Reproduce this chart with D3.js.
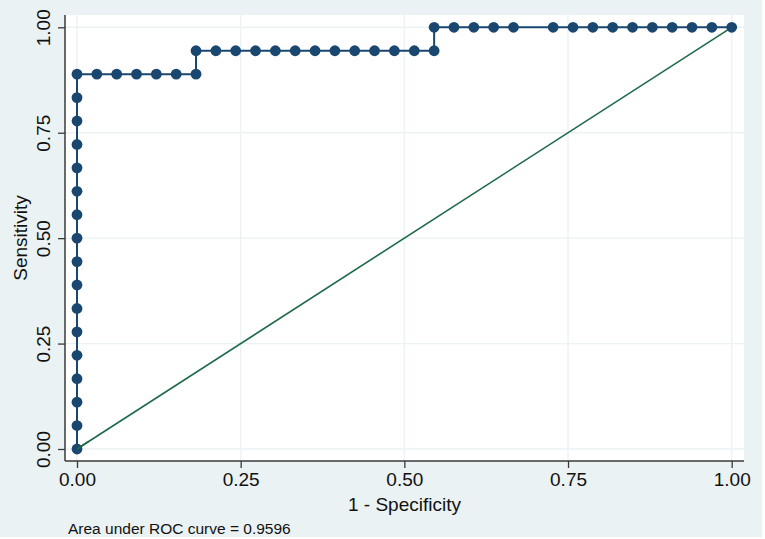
<!DOCTYPE html>
<html>
<head>
<meta charset="utf-8">
<script src="https://cdn.jsdelivr.net/npm/d3@7"></script>
<style>
  html, body { margin: 0; padding: 0; background: #fff; }
  svg { display: block; font-family: "Liberation Sans", Arial, sans-serif; }
</style>
</head>
<body>
<div id="chart"></div>
<script>
(function () {
  'use strict';

  // ROC points, ordered from (0,0) to (1,1)
  const fpr = [
    0, 0, 0, 0, 0, 0, 0, 0, 0, 0, 0, 0, 0, 0, 0, 0, 0,
    0.0303, 0.0606, 0.0909, 0.1212, 0.1515, 0.1818,
    0.1818, 0.2121, 0.2424, 0.2727, 0.3030, 0.3333, 0.3636, 0.3939, 0.4242, 0.4545, 0.4848, 0.5152, 0.5455,
    0.5455, 0.5758, 0.6061, 0.6364, 0.6667, 0.7273, 0.7576, 0.7879, 0.8182, 0.8485, 0.8788, 0.9091, 0.9394, 0.9697, 1
  ];
  const sens = [
    0, 0.0556, 0.1111, 0.1667, 0.2222, 0.2778, 0.3333, 0.3889, 0.4444, 0.5, 0.5556, 0.6111, 0.6667, 0.7222, 0.7778, 0.8333, 0.8889,
    0.8889, 0.8889, 0.8889, 0.8889, 0.8889, 0.8889,
    0.9444, 0.9444, 0.9444, 0.9444, 0.9444, 0.9444, 0.9444, 0.9444, 0.9444, 0.9444, 0.9444, 0.9444, 0.9444,
    1, 1, 1, 1, 1, 1, 1, 1, 1, 1, 1, 1, 1, 1, 1
  ];
  const refLine = [[0, 0], [1, 1]];
  const ticks = [0, 0.25, 0.5, 0.75, 1];
  const xTitle = '1 - Specificity';
  const yTitle = 'Sensitivity';
  const note   = 'Area under ROC curve = 0.9596';

  const W = 765, H = 539;
  const NAVY  = '#1a476f';
  const GREEN = '#1d6a48';
  const BG    = '#eaf2f3';
  const AXIS  = '#3a3a3a';

  const plot = { left: 65, right: 744, top: 15, bottom: 461 };

  const x = d3.scaleLinear().domain([0, 1]).range([77, 731.7]);
  const y = d3.scaleLinear().domain([0, 1]).range([449, 27.3]);

  const svg = d3.select('#chart').append('svg')
    .attr('width', W)
    .attr('height', H);

  // graph region + plot region
  svg.append('rect').attr('x', 0).attr('y', 0)
    .attr('width', 762).attr('height', 537).attr('fill', BG);
  svg.append('rect')
    .attr('x', plot.left).attr('y', plot.top)
    .attr('width', plot.right - plot.left).attr('height', plot.bottom - plot.top)
    .attr('fill', '#fff');

  // grid
  const grid = svg.append('g').attr('stroke', BG).attr('stroke-width', 1.4);
  grid.selectAll('.gx').data(ticks).join('line')
    .attr('x1', d => x(d)).attr('x2', d => x(d))
    .attr('y1', plot.top).attr('y2', plot.bottom);
  grid.selectAll('.gy').data(ticks).join('line')
    .attr('x1', plot.left).attr('x2', plot.right)
    .attr('y1', d => y(d)).attr('y2', d => y(d));

  // axes
  const fmt = d3.format('.2f');

  const xAxis = svg.append('g')
    .attr('transform', `translate(0,${plot.bottom})`)
    .call(d3.axisBottom(x).tickValues(ticks).tickFormat(fmt).tickSize(7).tickPadding(5));
  xAxis.select('.domain').attr('d', `M${plot.left},0H${plot.right}`)
    .attr('stroke', AXIS).attr('stroke-width', 1.5);
  xAxis.selectAll('.tick line').attr('stroke', AXIS).attr('stroke-width', 1.3);
  xAxis.selectAll('.tick text')
    .attr('font-size', 19).attr('fill', '#111')
    .attr('font-family', '"Liberation Sans", Arial, sans-serif');

  const yAxis = svg.append('g')
    .attr('transform', `translate(${plot.left},0)`)
    .call(d3.axisLeft(y).tickValues(ticks).tickFormat(fmt).tickSize(7));
  yAxis.select('.domain').attr('d', `M0,${plot.top}V${plot.bottom}`)
    .attr('stroke', AXIS).attr('stroke-width', 1.5);
  yAxis.selectAll('.tick line').attr('stroke', AXIS).attr('stroke-width', 1.3);
  yAxis.selectAll('.tick text')
    .attr('x', null).attr('dy', null)
    .attr('text-anchor', 'middle')
    .attr('transform', 'translate(-15,0) rotate(-90)')
    .attr('font-size', 19).attr('fill', '#111')
    .attr('font-family', '"Liberation Sans", Arial, sans-serif');

  // titles
  svg.append('text')
    .attr('x', (plot.left + plot.right) / 2).attr('y', 511)
    .attr('text-anchor', 'middle').attr('font-size', 19).attr('fill', '#111')
    .text(xTitle);
  svg.append('text')
    .attr('transform', `translate(27,${(plot.top + plot.bottom) / 2}) rotate(-90)`)
    .attr('text-anchor', 'middle').attr('font-size', 19).attr('fill', '#111')
    .text(yTitle);
  svg.append('text')
    .attr('x', 68).attr('y', 534)
    .attr('font-size', 15.5).attr('fill', '#111')
    .text(note);

  // reference diagonal
  svg.append('path')
    .attr('d', d3.line().x(d => x(d[0])).y(d => y(d[1]))(refLine))
    .attr('fill', 'none').attr('stroke', GREEN).attr('stroke-width', 1.6);

  // ROC curve
  const pts = fpr.map((f, i) => [f, sens[i]]);
  svg.append('path')
    .attr('d', d3.line().x(d => x(d[0])).y(d => y(d[1]))(pts))
    .attr('fill', 'none').attr('stroke', NAVY).attr('stroke-width', 2);

  svg.append('g').selectAll('circle')
    .data(pts)
    .join('circle')
    .attr('cx', d => x(d[0]))
    .attr('cy', d => y(d[1]))
    .attr('r', 5.4)
    .attr('fill', NAVY);

  // diagonal start drawn over the first marker, as in the reference
  svg.append('path')
    .attr('d', d3.line().x(d => x(d[0])).y(d => y(d[1]))(refLine))
    .attr('fill', 'none').attr('stroke', GREEN).attr('stroke-width', 1.6)
    .attr('stroke-dasharray', '14,2000');
})();
</script>
</body>
</html>
